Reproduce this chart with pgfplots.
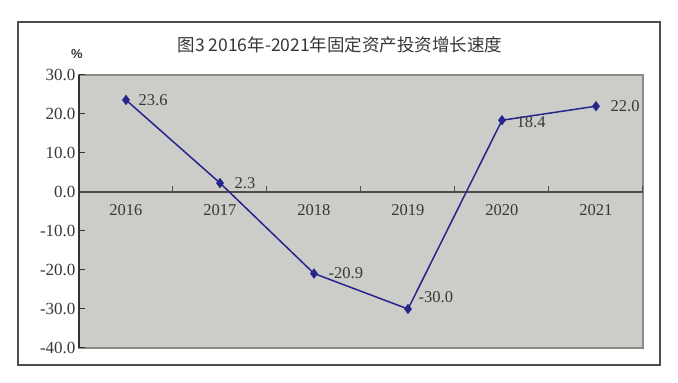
\documentclass[border=0pt]{standalone}
\usepackage{pgfplots}
\pgfplotsset{compat=1.18}
\usepackage{pgfplotstable}
\usepackage{fontspec}
\setmainfont{Liberation Serif}
\newfontfamily\cjk{Noto Sans CJK SC}
\newfontfamily\sansf{Liberation Sans}
\definecolor{plotgray}{RGB}{204,204,200}
\definecolor{bordergray}{RGB}{140,138,134}
\definecolor{axisdark}{RGB}{80,76,72}
\definecolor{navy}{RGB}{38,38,140}
\definecolor{textgray}{RGB}{55,55,55}
\pgfplotstableread{
x y lab dx dy
0 23.6 23.6 12 0
1 2.3 2.3 14 0
2 -20.9 -20.9 14 0
3 -30.0 -30.0 10 12
4 18.4 18.4 14 -2
5 22.0 22.0 14 0
}\growth
\begin{document}
\begin{tikzpicture}[x=1pt,y=1pt]
\path (0,0) rectangle (678,383);
\draw[color=axisdark, line width=1.2pt] (18,18) rectangle (660,361);
\node[font=\cjk\fontsize{17.5}{20}\selectfont, text=textgray] at (340,338) {图3 2016年-2021年固定资产投资增长速度};
\node[font=\sansf\bfseries\fontsize{13}{15}\selectfont, text=textgray] at (77,329) {\%};
\begin{axis}[
  at={(79pt,35pt)}, anchor=south west,
  width=564pt, height=273pt, scale only axis,
  xmin=-0.5, xmax=5.5, ymin=-40, ymax=30,
  clip=false,
  axis x line=middle, axis y line=left,
  axis background/.style={fill=plotgray, draw=bordergray, line width=1.6pt},
  x axis line style={-, line width=1.8pt, color=axisdark},
  y axis line style={-, line width=1.4pt, color=black!80},
  xtick={0,1,2,3,4,5},
  xticklabels={2016,2017,2018,2019,2020,2021},
  major x tick style={draw=none},
  minor xtick={0.5,1.5,2.5,3.5,4.5,5.5},
  minor x tick style={color=axisdark, line width=1pt},
  minor tick length=6pt,
  xtick align=inside,
  ytick={-40,-30,-20,-10,0,10,20,30},
  yticklabels={-40.0,-30.0,-20.0,-10.0,0.0,10.0,20.0,30.0},
  ytick align=inside,
  major tick length=6pt,
  y tick style={color=black!80, line width=1pt},
  xticklabel style={font=\fontsize{16.5}{18}\selectfont, text=textgray, yshift=-9pt},
  yticklabel style={font=\fontsize{17}{18}\selectfont, text=textgray, xshift=0pt},
]
\addplot[color=navy, line width=1.5pt, mark=diamond*, mark size=4pt,
  mark options={solid, fill=navy},
  nodes near coords, point meta=explicit symbolic,
  visualization depends on={\thisrow{dx}\as\dx},
  visualization depends on={\thisrow{dy}\as\dy},
  nodes near coords style={anchor=west, inner sep=0pt, xshift=\dx pt, yshift=\dy pt,
    font=\fontsize{16.5}{18}\selectfont, text=textgray}]
  table[x=x, y=y, meta=lab] {\growth};
\end{axis}
\end{tikzpicture}
\end{document}
